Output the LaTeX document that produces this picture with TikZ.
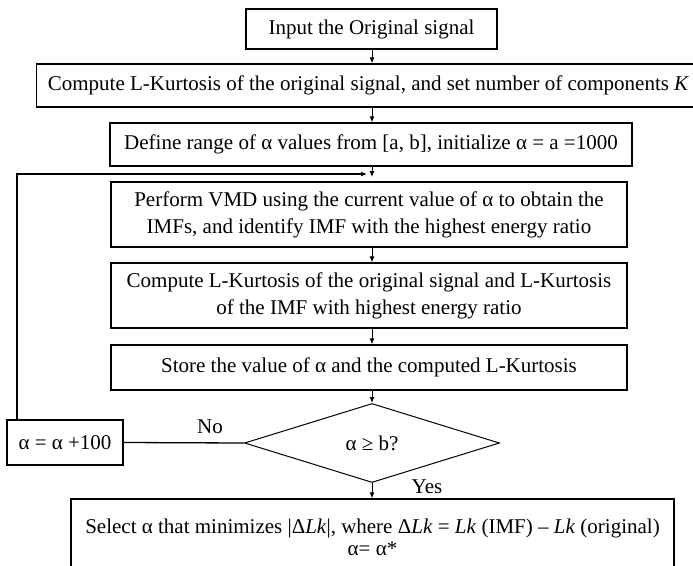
\documentclass[tikz,border=0pt]{standalone}
\usepackage{fontspec}
\setmainfont{Liberation Serif}
\usetikzlibrary{shapes.geometric,arrows.meta}
\begin{document}
\begin{tikzpicture}[x=1pt,y=-1pt,
  every node/.style={font=\fontsize{21}{27}\selectfont, inner sep=0pt},
  box/.style={draw, line width=1.4pt, align=center},
  dec/.style={draw, shape=diamond, line width=1pt, aspect=3.2},
  conn/.style={line width=1pt, -{Latex[length=6pt,width=5pt]}},
  plain/.style={line width=1.3pt},
  lbl/.style={font=\fontsize{21}{27}\selectfont}]
\useasboundingbox (0,0) rectangle (693,565);
\fill[white] (0,0) rectangle (693,565);

\node[box, minimum width=251pt, minimum height=40pt] (b1) at (371.5,29) {Input the Original signal};
\node[box, minimum width=664pt, minimum height=43pt] (b2) at (368.5,85.5) {Compute L-Kurtosis of the original signal, and set number of components \textit{K}};
\node[box, minimum width=522pt, minimum height=43pt] (b3) at (371,144.5) {Define range of α values from [a, b], initialize α = a =1000};
\node[box, minimum width=516pt, minimum height=65pt] (b4) at (369,214.5) {Perform VMD using the current value of α to obtain the\\IMFs, and identify IMF with the highest energy ratio};
\node[box, minimum width=516pt, minimum height=65pt] (b5) at (369,295.5) {Compute L-Kurtosis of the original signal and L-Kurtosis\\of the IMF with highest energy ratio};
\node[box, minimum width=516pt, minimum height=45pt] (b6) at (369,367.5) {Store the value of α and the computed L-Kurtosis};
\node[dec, minimum width=255pt, minimum height=79pt] (dia) at (372,443) {α ≥ b?};
\node[box, minimum width=116pt, minimum height=45pt] (ab) at (65,442.5) {α = α +100};
\node[box, minimum width=603pt, minimum height=71pt] (fb) at (372.5,534.5) {};
\node[align=center, font=\fontsize{21}{21}\selectfont] (ft) at (372.5,537) {Select α that minimizes |Δ\textit{Lk}|, where Δ\textit{Lk} = \textit{Lk} (IMF) – \textit{Lk} (original)\\[1pt]α= α*};

\node[lbl] (no) at (210,427) {No};
\node[lbl] (yes) at (427,487) {Yes};

\coordinate (ax) at (372,0);
\coordinate (lx) at (17,0);
\coordinate (J) at (372,177);
\coordinate (Jl) at (367,174);

\draw[conn] (b1.south -| ax) -- (b2.north -| ax);
\draw[conn] (b2.south -| ax) -- (b3.north -| ax);
\draw[conn] (b3.south -| ax) -- (J);
\draw[conn] (b4.south -| ax) -- (b5.north -| ax);
\draw[conn] (b5.south -| ax) -- (b6.north -| ax);
\draw[conn] (b6.south -| ax) -- (dia.north);
\draw[conn] (dia.south) -- (fb.north -| dia.south);
\draw[plain] (dia.west) -- (ab.east);
\draw[plain, -{Latex[length=6pt,width=5pt]}] (ab.north -| lx) -- (lx |- Jl) -- (Jl);
\end{tikzpicture}
\end{document}
